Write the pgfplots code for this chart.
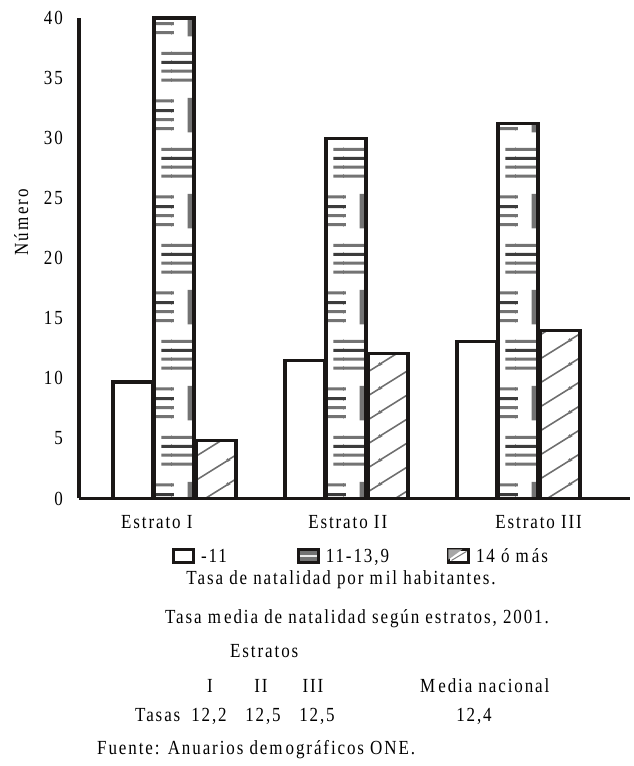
\documentclass[border=0pt]{standalone}
\usepackage{fontspec}
\setmainfont{Liberation Serif}[FakeStretch=0.85,LetterSpace=9.5]
\usepackage{pgfplots}
\pgfplotsset{compat=1.18}
\usetikzlibrary{patterns.meta}

\definecolor{stripe}{RGB}{115,115,115}
\definecolor{stripedark}{RGB}{60,60,60}
\definecolor{hatchc}{RGB}{110,110,110}
\definecolor{edge}{RGB}{26,23,22}
\newcommand\mk{\kern3bp}

\newcommand\stripeset[1]{%
  \pgfsetstrokecolor{stripe}%
  \pgfpathmoveto{\pgfpoint{#1bp+8bp}{14bp}}\pgfpathlineto{\pgfpoint{#1bp+42bp}{14bp}}%
  \pgfpathmoveto{\pgfpoint{#1bp+8bp}{23bp}}\pgfpathlineto{\pgfpoint{#1bp+42bp}{23bp}}%
  \pgfpathmoveto{\pgfpoint{#1bp+8bp}{41bp}}\pgfpathlineto{\pgfpoint{#1bp+42bp}{41bp}}%
  \pgfpathmoveto{\pgfpoint{#1bp+0bp}{62bp}}\pgfpathlineto{\pgfpoint{#1bp+20bp}{62bp}}%
  \pgfpathmoveto{\pgfpoint{#1bp+0bp}{71bp}}\pgfpathlineto{\pgfpoint{#1bp+20bp}{71bp}}%
  \pgfpathmoveto{\pgfpoint{#1bp+0bp}{90bp}}\pgfpathlineto{\pgfpoint{#1bp+20bp}{90bp}}%
  \pgfusepath{stroke}%
  \pgfsetstrokecolor{stripedark}%
  \pgfpathmoveto{\pgfpoint{#1bp+8bp}{32bp}}\pgfpathlineto{\pgfpoint{#1bp+42bp}{32bp}}%
  \pgfpathmoveto{\pgfpoint{#1bp+0bp}{80bp}}\pgfpathlineto{\pgfpoint{#1bp+20bp}{80bp}}%
  \pgfusepath{stroke}%
  \pgfsetfillcolor{stripe}%
  \pgfpathrectangle{\pgfpoint{#1bp+34bp}{58bp}}{\pgfpoint{5.5bp}{35bp}}\pgfusepath{fill}%
}

\pgfdeclarepattern{
  name=estr,
  type=colored,
  bottom left={\pgfpointorigin},
  top right={\pgfpoint{43bp}{96bp}},
  tile size={\pgfpoint{43bp}{96bp}},
  code={%
    \pgfsetfillcolor{white}%
    \pgfpathrectangle{\pgfpointorigin}{\pgfpoint{43bp}{96bp}}\pgfusepath{fill}%
    \pgfsetlinewidth{3bp}%
    \stripeset{25}\stripeset{-18}%
  }
}

\pgfdeclarepattern{
  name=hatchp,
  type=colored,
  bottom left={\pgfpointorigin},
  top right={\pgfpoint{38bp}{23.5bp}},
  tile size={\pgfpoint{38bp}{23.5bp}},
  code={%
    \pgfsetfillcolor{white}%
    \pgfpathrectangle{\pgfpointorigin}{\pgfpoint{38bp}{23.5bp}}\pgfusepath{fill}%
    \pgfsetlinewidth{1.6bp}%
    \pgfsetstrokecolor{hatchc}%
    \pgfpathmoveto{\pgfpoint{-2bp}{-1.237bp}}\pgfpathlineto{\pgfpoint{40bp}{24.737bp}}%
    \pgfpathmoveto{\pgfpoint{-2bp}{22.263bp}}\pgfpathlineto{\pgfpoint{40bp}{48.237bp}}%
    \pgfpathmoveto{\pgfpoint{-2bp}{-24.737bp}}\pgfpathlineto{\pgfpoint{40bp}{1.237bp}}%
    \pgfusepath{stroke}%
  }
}

\begin{document}
\begin{tikzpicture}[font=\fontsize{20bp}{24bp}\selectfont]
\useasboundingbox (0,0) rectangle (634bp,766bp);
\begin{axis}[
  at={(79bp,267.5bp)}, anchor=south west,
  scale only axis, width=551bp, height=480.5bp,
  xmin=-0.552326, xmax=2.651163, ymin=0, ymax=40,
  axis x line=bottom, axis y line=left,
  axis line style={line width=3.2bp, draw=edge, -},
  ytick={0,5,...,40},
  xtick={-0.1,1.01,2.12},
  xticklabels={Estrato I, Estrato II, Estrato III},
  major tick length=0pt,
  /pgf/number format/assume math mode=true,
  yticklabel style={anchor=east, inner sep=0pt, xshift=-16bp},
  xticklabel style={anchor=base, inner sep=0pt, yshift=-30.5bp},
  ylabel={Núm\mk ero},
  ylabel style={at={(axis description cs:-0.105,0.575)}, anchor=center, inner sep=0pt},
  ybar, bar width=40bp,
  clip=false,
  legend columns=3,
  legend style={draw=none, fill=none, at={(axis description cs:0.1688,-0.1197)}, anchor=west,
    inner sep=0pt, outer sep=0pt, nodes={inner sep=0pt},
    /tikz/every odd column/.append style={column sep=6bp},
    /tikz/column 2/.style={column sep=70bp},
    /tikz/column 4/.style={column sep=58bp}},
]
\addplot[draw=edge, line width=3.2bp, fill=white, bar shift=-41bp,
  legend image code/.code={\draw[line width=3bp, draw=edge, fill=white] (0bp,-6bp) rectangle (20bp,7bp);}]
  coordinates {(0,9.7) (1,11.5) (2,13.1)};
\addlegendentry{-11}
\addplot[draw=edge, line width=3.2bp, pattern=estr, bar shift=0bp,
  legend image code/.code={\draw[line width=3bp, draw=edge, fill=stripe] (0bp,-6bp) rectangle (20bp,7bp);
    \draw[line width=2.5bp, white!85!gray] (1.5bp,0.5bp) -- (18.5bp,0.5bp);}]
  coordinates {(0,40) (1,30) (2,31.2)};
\addlegendentry{11-13,9}
\addplot[draw=edge, line width=3.2bp, pattern=hatchp, bar shift=42bp,
  legend image code/.code={\draw[line width=3bp, draw=edge, fill=white] (0bp,-6bp) rectangle (20bp,7bp);
    \fill[gray!70] (1.5bp,5.5bp) -- (9bp,5.5bp) -- (1.5bp,0bp) -- cycle;
    \draw[line width=1bp, gray] (3bp,-4bp) -- (18bp,5bp);}]
  coordinates {(0,4.8) (1,12.1) (2,14.0)};
\addlegendentry{14 ó m\mk ás}
\end{axis}
\begin{scope}[every node/.style={inner sep=0pt}]
\node[anchor=base] at (341bp,181bp) {Tasa de natalidad por m\mk il habitantes.};
\node[anchor=base] at (357bp,142bp) {Tasa m\mk edia de natalidad según estratos, 2001.};
\node[anchor=base west] at (230bp,108bp) {Estratos};
\node[anchor=base] at (210bp,73bp) {I};
\node[anchor=base] at (261bp,73bp) {II};
\node[anchor=base] at (313bp,73bp) {III};
\node[anchor=base west] at (420bp,73bp) {M\mk edia nacional};
\node[anchor=base west] at (135bp,44bp) {Tasas};
\node[anchor=base] at (209bp,44bp) {12,2};
\node[anchor=base] at (263bp,44bp) {12,5};
\node[anchor=base] at (317bp,44bp) {12,5};
\node[anchor=base] at (474bp,44bp) {12,4};
\node[anchor=base west] at (97bp,12bp) {Fuente: Anuarios dem\mk ográficos ONE.};
\end{scope}
\end{tikzpicture}
\end{document}
